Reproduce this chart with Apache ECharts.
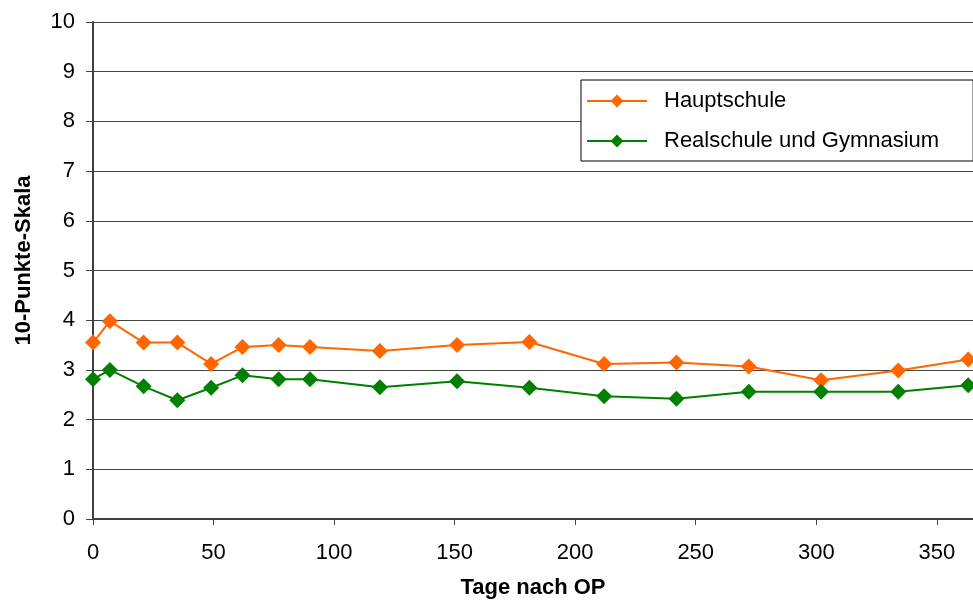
<!DOCTYPE html>
<html>
<head>
<meta charset="utf-8">
<script src="https://cdn.jsdelivr.net/npm/echarts@6/dist/echarts.min.js"></script>
<style>
  html, body { margin: 0; padding: 0; background: #fff; }
  #chart { width: 973px; height: 604px; }
</style>
</head>
<body>
<div id="chart"></div>
<script>
// Erhebungszeitpunkte (Tage nach OP)
const days = [0, 7, 21, 35, 49, 62, 77, 90, 119, 151, 181, 212, 242, 272, 302, 334, 363];
// Mittelwerte auf der 10-Punkte-Skala
const hauptschule = [3.55, 3.98, 3.55, 3.55, 3.12, 3.46, 3.50, 3.46, 3.38, 3.50, 3.56, 3.12, 3.15, 3.07, 2.79, 2.99, 3.21];
const realschuleGymnasium = [2.81, 3.00, 2.67, 2.39, 2.64, 2.89, 2.81, 2.81, 2.65, 2.77, 2.64, 2.47, 2.42, 2.56, 2.56, 2.56, 2.69];
const seriesNames = ['Hauptschule', 'Realschule und Gymnasium'];
const xAxisTitle = 'Tage nach OP';
const yAxisTitle = '10-Punkte-Skala';

const FONT = "'Liberation Sans', Arial, Helvetica, sans-serif";

function pairs(xs, ys) {
  return xs.map((x, i) => [x, ys[i]]);
}

const chart = echarts.init(document.getElementById('chart'), null, { renderer: 'canvas' });

chart.setOption({
  animation: false,
  backgroundColor: '#ffffff',
  textStyle: { fontFamily: FONT },
  grid: { left: 93, right: 0, top: 22, bottom: 84, containLabel: false },
  legend: {
    left: 581,
    top: 80,
    orient: 'vertical',
    data: seriesNames,
    backgroundColor: '#ffffff',
    borderColor: '#000000',
    borderWidth: 1,
    borderRadius: 0,
    padding: [10, 34, 9, 5],
    itemWidth: 60,
    itemHeight: 16,
    itemGap: 18,
    textStyle: { fontFamily: FONT, fontSize: 22, color: '#000', padding: [0, 0, 0, 12], lineHeight: 22 }
  },
  xAxis: {
    type: 'value',
    min: 0,
    max: 365,
    interval: 50,
    name: xAxisTitle,
    nameLocation: 'middle',
    nameGap: 58,
    nameTextStyle: { fontFamily: FONT, fontSize: 22, fontWeight: 'bold', color: '#000' },
    axisLine: { show: true, onZero: false, lineStyle: { color: '#404040', width: 2 } },
    axisTick: { show: true, length: 6, lineStyle: { color: '#404040', width: 1 } },
    axisLabel: { fontFamily: FONT, fontSize: 22, color: '#000', margin: 23, showMaxLabel: false },
    splitLine: { show: false }
  },
  yAxis: {
    type: 'value',
    min: 0,
    max: 10,
    interval: 1,
    name: yAxisTitle,
    nameLocation: 'middle',
    nameGap: 58,
    nameRotate: 90,
    nameTextStyle: { fontFamily: FONT, fontSize: 22, fontWeight: 'bold', color: '#000', padding: [0, 0, 0, 20] },
    axisLine: { show: true, lineStyle: { color: '#404040', width: 2 } },
    axisTick: { show: true, length: 7, lineStyle: { color: '#404040', width: 1 } },
    axisLabel: { fontFamily: FONT, fontSize: 22, color: '#000', margin: 18 },
    splitLine: { show: true, lineStyle: { color: '#444444', width: 1 } }
  },
  series: [
    {
      name: seriesNames[0],
      type: 'line',
      data: pairs(days, hauptschule),
      symbol: 'diamond',
      symbolSize: 16,
      clip: false,
      color: '#FF6600',
      lineStyle: { color: '#FF6600', width: 2 },
      itemStyle: { color: '#FF6600' }
    },
    {
      name: seriesNames[1],
      type: 'line',
      data: pairs(days, realschuleGymnasium),
      symbol: 'diamond',
      symbolSize: 16,
      clip: false,
      color: '#008000',
      lineStyle: { color: '#008000', width: 2 },
      itemStyle: { color: '#008000' }
    }
  ]
});
</script>
</body>
</html>
